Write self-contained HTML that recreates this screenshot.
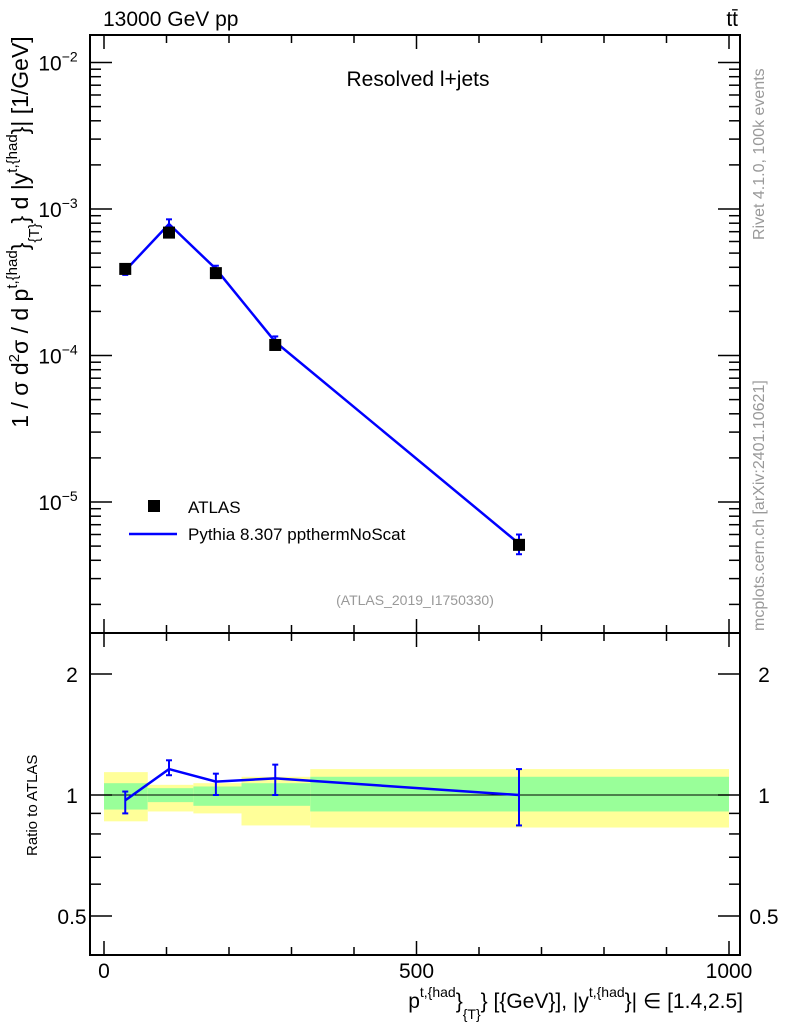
<!DOCTYPE html>
<html><head><meta charset="utf-8"><style>
body{margin:0;background:#fff;}
svg{display:block;font-family:"Liberation Sans",Arial,sans-serif;}
</style></head><body>
<svg id="c" width="786" height="1024" viewBox="0 0 786 1024">
<g id="g"></g>
</svg>
<script>
const xCenters=[34,104,179,274,664];
const binEdges=[0,70,143,220,330,1000];
const atlasVals=[3.9e-4,6.9e-4,3.65e-4,1.18e-4,5.1e-6];
const mcVals=[3.8e-4,7.9e-4,3.9e-4,1.24e-4,5.2e-6];
const mcErrLo=[3.55e-4,7.4e-4,3.7e-4,1.1e-4,4.4e-6];
const mcErrHi=[4.0e-4,8.5e-4,4.1e-4,1.35e-4,6.0e-6];
const ratioVals=[0.97,1.16,1.08,1.10,1.0];
const ratioLo=[0.90,1.12,1.0,1.0,0.84];
const ratioHi=[1.02,1.22,1.13,1.19,1.16];
const yelLo=[0.86,0.91,0.90,0.84,0.83];
const yelHi=[1.14,1.06,1.07,1.11,1.16];
const grnLo=[0.92,0.96,0.94,0.94,0.91];
const grnHi=[1.07,1.04,1.05,1.07,1.11];
const xTicks=[0,500,1000];
const yTickExps=[-2,-3,-4,-5];
const rTicks=[2,1,0.5];

const NS="http://www.w3.org/2000/svg";
const g=document.getElementById('g');
function el(t,a,txt){const e=document.createElementNS(NS,t);for(const k in a)e.setAttribute(k,a[k]);if(txt!==undefined)e.textContent=txt;g.appendChild(e);return e;}
const X=v=>104+v*0.625;
const Y=v=>209-(Math.log10(v)+3)*146.5;
const R=v=>795-Math.log2(v)*121;

for(let i=0;i<yelLo.length;i++){
 let e=el('rect',{x:X(binEdges[i]),y:R(yelHi[i]),width:X(binEdges[i+1])-X(binEdges[i]),height:R(yelLo[i])-R(yelHi[i]),fill:'#ffff99'});
 
 
 e=el('rect',{x:X(binEdges[i]),y:R(grnHi[i]),width:X(binEdges[i+1])-X(binEdges[i]),height:R(grnLo[i])-R(grnHi[i]),fill:'#99ff99'});
 
 
}
let ln=el('line',{x1:90,x2:740,y1:R(1),y2:R(1),stroke:'#000','stroke-width':1});



let f=el('rect',{x:90,y:35,width:650,height:598,fill:'none',stroke:'#000','stroke-width':2});


f=el('rect',{x:90,y:633,width:650,height:322,fill:'none',stroke:'#000','stroke-width':2});



for(let v=0;v<=1000;v+=100){
 const L=(v%500===0)?14:8;
 for(const [yt,yb] of [[35,633],[633,955]]){
  el('line',{x1:X(v),x2:X(v),y1:yb,y2:yb-L,stroke:'#000','stroke-width':1.5});
  el('line',{x1:X(v),x2:X(v),y1:yt,y2:yt+L,stroke:'#000','stroke-width':1.5});
 }
}
for(const v of xTicks){
 const t=el('text',{x:X(v),y:978,'font-size':21,'text-anchor':'middle'},String(v));
 
 
}
for(let e=-6;e<=-2;e++){
 for(let m=1;m<10;m++){
  const v=m*Math.pow(10,e);const y=Y(v);
  if(y<35||y>633)continue;
  const L=m===1?22:11;
  el('line',{x1:90,x2:90+L,y1:y,y2:y,stroke:'#000','stroke-width':1.5});
  el('line',{x1:740,x2:740-L,y1:y,y2:y,stroke:'#000','stroke-width':1.5});
 }
}
for(const e of yTickExps){
 const t=el('text',{x:58,y:Y(Math.pow(10,e))+8,'font-size':21,'text-anchor':'middle'});
 t.innerHTML='10<tspan dy="-9" font-size="14">'+(e<0?'\u2212'+(-e):e)+'</tspan>';
 
 
}
for(const v of [0.5,0.6,0.7,0.8,0.9,1,2]){
 const L=(v===0.5||v===1||v===2)?22:11;
 el('line',{x1:90,x2:90+L,y1:R(v),y2:R(v),stroke:'#000','stroke-width':1.5});
 el('line',{x1:740,x2:740-L,y1:R(v),y2:R(v),stroke:'#000','stroke-width':1.5});
}
for(const v of rTicks){
 let t=el('text',{x:72,y:R(v)+8,'font-size':21,'text-anchor':'middle'},String(v));
 
 
 t=el('text',{x:764,y:R(v)+8,'font-size':21,'text-anchor':'middle'},String(v));
 
 
}

let p=el('polyline',{points:xCenters.map((x,i)=>X(x)+','+Y(mcVals[i])).join(' '),fill:'none',stroke:'#0000ff','stroke-width':2.5});


for(let i=0;i<xCenters.length;i++){
 const x=X(xCenters[i]);
 el('line',{x1:x,x2:x,y1:Y(mcErrLo[i]),y2:Y(mcErrHi[i]),stroke:'#0000ff','stroke-width':2});
 el('line',{x1:x-3,x2:x+3,y1:Y(mcErrLo[i]),y2:Y(mcErrLo[i]),stroke:'#0000ff','stroke-width':2});
 el('line',{x1:x-3,x2:x+3,y1:Y(mcErrHi[i]),y2:Y(mcErrHi[i]),stroke:'#0000ff','stroke-width':2});
 const r=el('rect',{x:x-6,y:Y(atlasVals[i])-6,width:12,height:12,fill:'#000'});
 
 
}
p=el('polyline',{points:xCenters.map((x,i)=>X(x)+','+R(ratioVals[i])).join(' '),fill:'none',stroke:'#0000ff','stroke-width':2.5});


for(let i=0;i<xCenters.length;i++){
 const x=X(xCenters[i]);
 el('line',{x1:x,x2:x,y1:R(ratioLo[i]),y2:R(ratioHi[i]),stroke:'#0000ff','stroke-width':2});
 el('line',{x1:x-3,x2:x+3,y1:R(ratioLo[i]),y2:R(ratioLo[i]),stroke:'#0000ff','stroke-width':2});
 el('line',{x1:x-3,x2:x+3,y1:R(ratioHi[i]),y2:R(ratioHi[i]),stroke:'#0000ff','stroke-width':2});
}

function T(x,y,s,a,name){const t=el('text',a);t.setAttribute('x',x);t.setAttribute('y',y);t.innerHTML=s;return t;}
T(103,26,'13000 GeV pp',{'font-size':21},'energy-label');
T(738,26,'tt̄',{'font-size':21,'text-anchor':'end'},'process-label');
T(418,86,'Resolved l+jets',{'font-size':21,'text-anchor':'middle'},'plot-title');
T(415,605,'(ATLAS_2019_I1750330)',{'font-size':14,'text-anchor':'middle',fill:'#999'},'analysis-id');
el('rect',{x:148,y:500,width:12,height:12,fill:'#000'});
T(188,513,'ATLAS',{'font-size':17},'legend-atlas');
el('line',{x1:129,x2:177,y1:534,y2:534,stroke:'#0000ff','stroke-width':2.5});
T(188,540,'Pythia 8.307 ppthermNoScat',{'font-size':17},'legend-pythia');
T(0,0,'1 / σ d<tspan dy="-9" font-size="15">2</tspan><tspan dy="9">σ / d p</tspan><tspan dy="-11" font-size="15">t,{had</tspan><tspan dy="11">}</tspan><tspan dy="11" font-size="15">{T}</tspan><tspan dy="-11">} d |y</tspan><tspan dy="-11" font-size="15">t,{had</tspan><tspan dy="11">}| [1/GeV]</tspan>',{'font-size':23,'text-anchor':'middle',transform:'translate(28,232) rotate(-90)'},'y-axis-title');
T(0,0,'Ratio to ATLAS',{'font-size':15,transform:'translate(37,856) rotate(-90)'},'ratio-axis-title');
T(743,1008,'p<tspan dy="-11" font-size="14">t,{had</tspan><tspan dy="11">}</tspan><tspan dy="11" font-size="14">{T}</tspan><tspan dy="-11">} [{GeV}], |y</tspan><tspan dy="-11" font-size="14">t,{had</tspan><tspan dy="11">}| ∈ [1.4,2.5]</tspan>',{'font-size':21,'text-anchor':'end'},'x-axis-title');
T(0,0,'Rivet 4.1.0,  100k events',{'font-size':16,fill:'#999',transform:'translate(764,240) rotate(-90)'},'rivet-label');
T(0,0,'mcplots.cern.ch [arXiv:2401.10621]',{'font-size':16,fill:'#999',transform:'translate(764,631) rotate(-90)'},'mcplots-label');
</script>
</body></html>
